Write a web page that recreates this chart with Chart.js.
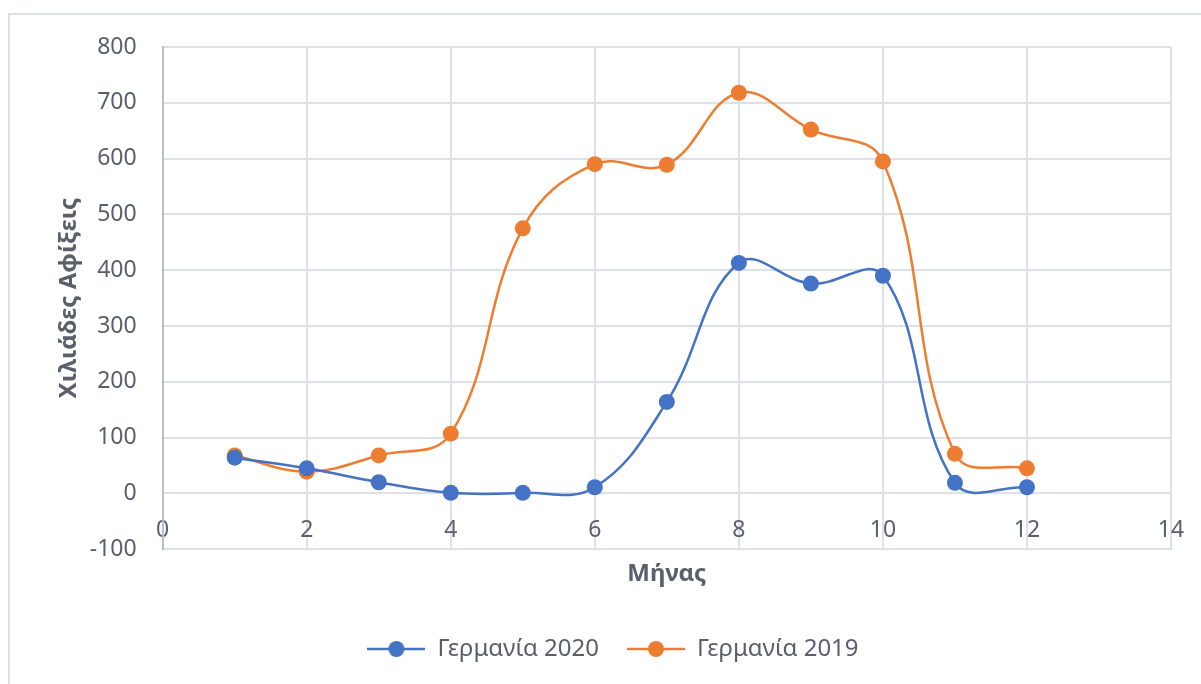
<!DOCTYPE html>
<html>
<head>
<meta charset="utf-8">
<script src="https://cdn.jsdelivr.net/npm/chart.js@4.4.1/dist/chart.umd.min.js"></script>
<style>
  html, body { margin: 0; padding: 0; background: #fff; overflow: hidden; }
  #frame {
    position: absolute; left: 8px; top: 13px; width: 1210px; height: 700px;
    border: 2px solid #dde1e6; box-sizing: border-box;
  }
  #wrap { position: absolute; left: 0; top: 0; width: 1201px; height: 684px; }
</style>
</head>
<body>
<div id="frame"></div>
<div id="wrap"><canvas id="arrivalsChart"></canvas></div>
<script>
const months = [1, 2, 3, 4, 5, 6, 7, 8, 9, 10, 11, 12];
const germany2020 = [64, 45, 20, 1, 1, 11, 164, 413, 376, 390, 19, 11];
const germany2019 = [68, 39, 68, 107, 475, 590, 589, 718, 652, 595, 71, 45];

const seriesNames = ['Γερμανία 2020', 'Γερμανία 2019'];
const seriesColors = ['#4472C4', '#ED7D31'];

const textColor = '#595f6b';
const gridColor = '#dde2ea';
const fontFamily = "'Noto Sans', 'Open Sans', sans-serif";

// little line+dot picture for the legend
function legendMarker(color) {
    const c = document.createElement('canvas');
    c.width = 58;
    c.height = 18;
    const g = c.getContext('2d');
    g.strokeStyle = color;
    g.lineWidth = 2.5;
    g.beginPath();
    g.moveTo(0, 9);
    g.lineTo(58, 9);
    g.stroke();
    g.fillStyle = color;
    g.beginPath();
    g.arc(29, 9, 8, 0, Math.PI * 2);
    g.fill();
    return c;
}

const toPoints = vals => months.map((m, i) => ({ x: m, y: vals[i] }));

const ctx = document.getElementById('arrivalsChart').getContext('2d');
const myChart = new Chart(ctx, {
    type: 'line',
    data: {
        datasets: [germany2020, germany2019].map((vals, i) => ({
            label: seriesNames[i],
            data: toPoints(vals),
            borderColor: seriesColors[i],
            backgroundColor: seriesColors[i],
            borderWidth: 2.5,
            pointRadius: 8,
            pointHoverRadius: 8,
            pointBorderWidth: 0,
            tension: 0.4,
            fill: false
        }))
    },
    options: {
        responsive: true,
        maintainAspectRatio: false,
        animation: false,
        layout: { padding: { left: 55, top: 47, right: 30, bottom: 13 } },
        plugins: {
            tooltip: { enabled: false },
            legend: {
                position: 'bottom',
                labels: {
                    color: textColor,
                    font: { family: fontFamily, size: 24 },
                    usePointStyle: true,
                    pointStyleWidth: 58,
                    padding: 28,
                    generateLabels: chart => chart.data.datasets.map((ds, i) => ({
                        text: ds.label,
                        fontColor: textColor,
                        pointStyle: legendMarker(seriesColors[i]),
                        datasetIndex: i,
                        lineWidth: 0
                    }))
                }
            }
        },
        scales: {
            x: {
                type: 'linear',
                min: 0,
                max: 14,
                ticks: {
                    stepSize: 2,
                    mirror: true,
                    padding: 5,
                    color: textColor,
                    font: { family: fontFamily, size: 23 }
                },
                grid: { color: gridColor, lineWidth: 2, drawTicks: false },
                border: { color: gridColor, width: 2 },
                title: {
                    display: true,
                    text: 'Μήνας',
                    color: textColor,
                    font: { family: fontFamily, size: 24, weight: 'bold' },
                    padding: { top: 1, bottom: 20 }
                }
            },
            y: {
                min: -100,
                max: 800,
                ticks: {
                    stepSize: 100,
                    padding: 26,
                    color: textColor,
                    font: { family: fontFamily, size: 23 }
                },
                grid: { color: gridColor, lineWidth: 2, drawTicks: false },
                border: { color: '#b4bfcf', width: 2 },
                title: {
                    display: true,
                    text: 'Χιλιάδες Αφίξεις',
                    color: textColor,
                    font: { family: fontFamily, size: 24, weight: 'bold' },
                    padding: { top: 0, bottom: -20 }
                }
            }
        }
    }
});
</script>
</body>
</html>
